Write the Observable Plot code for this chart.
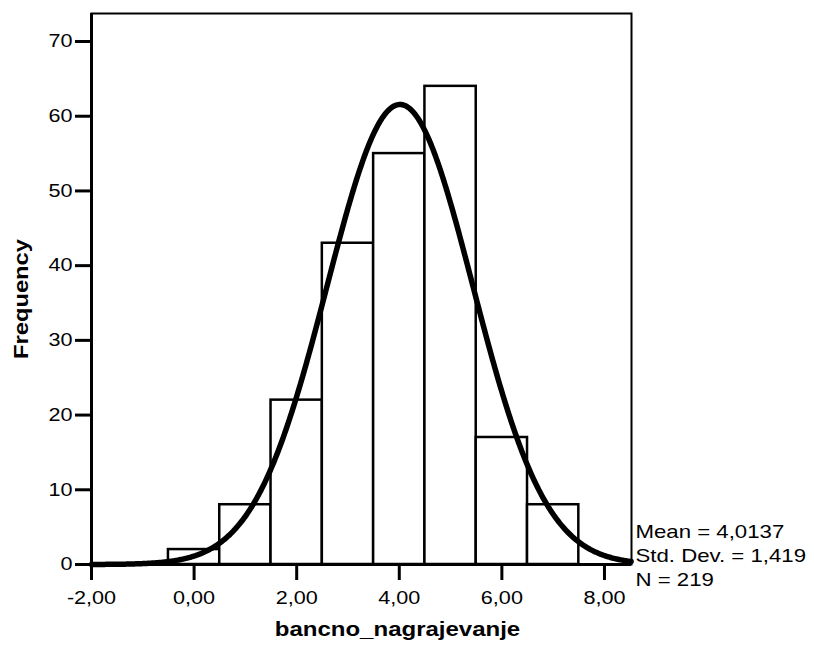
<!DOCTYPE html>
<html>
<head>
<meta charset="utf-8">
<script src="https://cdn.jsdelivr.net/npm/d3@7"></script>
<script src="https://cdn.jsdelivr.net/npm/@observablehq/plot@0.6"></script>
<style>
  html, body { margin: 0; padding: 0; background: #fff; }
  #chart svg { display: block; }
</style>
</head>
<body>
<div id="chart"></div>
<script>
// Histogram bins (lower and upper edges) and their frequencies
const binStart = [-0.5, 0.5, 1.5, 2.5, 3.5, 4.5, 5.5, 6.5];
const binEnd   = [ 0.5, 1.5, 2.5, 3.5, 4.5, 5.5, 6.5, 7.5];
const frequency = [2, 8, 22, 43, 55, 64, 17, 8];

// Axis ticks
const xTicks = [-2, 0, 2, 4, 6, 8];
const yTicks = [0, 10, 20, 30, 40, 50, 60, 70];

// Summary statistics
const mean = 4.0137;
const stdDev = 1.419;
const count = 219;

const xLabel = "bancno_nagrajevanje";
const yLabel = "Frequency";

const comma = (v, digits) => v.toFixed(digits).replace(".", ",");
const statsLines = [
  `Mean = ${comma(mean, 4)}`,
  `Std. Dev. = ${comma(stdDev, 3)}`,
  `N = ${count}`
];

const bins = frequency.map((f, i) => ({start: binStart[i], end: binEnd[i], count: f}));

// Normal curve scaled to the histogram (N × bin width × density)
const binWidth = binEnd[0] - binStart[0];
const xMin = -2, xMax = 8.527;
const curve = d3.range(xMin, xMax + 0.001, 0.02).map(x => ({
  x,
  y: count * binWidth * Math.exp(-0.5 * ((x - mean) / stdDev) ** 2) / (stdDev * Math.sqrt(2 * Math.PI))
}));

const chart = Plot.plot({
  width: 814,
  height: 645,
  marginLeft: 91,
  marginRight: 183,
  marginTop: 13,
  marginBottom: 81,
  style: {fontFamily: "'Liberation Sans', Arial, sans-serif", fontSize: "18px", color: "#000", background: "#fff"},
  x: {domain: [xMin, xMax]},
  y: {domain: [0, 73.75]},
  marks: [
    Plot.rectY(bins, {x1: "start", x2: "end", y: "count", fill: "white", stroke: "black", strokeWidth: 2.5, inset: 0}),
    Plot.line(curve, {x: "x", y: "y", stroke: "black", strokeWidth: 5.5}),
    Plot.frame({stroke: "black", strokeWidth: 2}),
    Plot.ruleX([xMin], {stroke: "black", strokeWidth: 3}),
    Plot.ruleY([0], {stroke: "black", strokeWidth: 3}),
    Plot.axisX({ticks: xTicks, tickFormat: d => comma(d, 2), tickSize: 16, tickPadding: 11, strokeWidth: 3, label: null, fontSize: 18}),
    Plot.axisY({ticks: yTicks, tickSize: 16, tickPadding: 3, strokeWidth: 3, label: null, fontSize: 18}),
    Plot.text([xLabel], {text: d => d, frameAnchor: "bottom", dx: 36, dy: 71, lineAnchor: "bottom", fontWeight: "bold", fontSize: 20}),
    Plot.text([yLabel], {text: d => d, frameAnchor: "left", rotate: -90, dx: -70, dy: 10, textAnchor: "middle", lineAnchor: "middle", fontWeight: "bold", fontSize: 21}),
    ...statsLines.map((s, i) => Plot.text([s], {
      text: d => d, frameAnchor: "bottom-right", textAnchor: "start", lineAnchor: "bottom",
      dx: 4, dy: -27 + 24 * i, fontSize: 18.5
    }))
  ]
});

document.getElementById("chart").append(chart);

// Widen the lettering slightly, as in the original SPSS output
chart.querySelectorAll("text").forEach(t => {
  if (t.querySelector("tspan")) return;
  const f = t.textContent === yLabel ? 1.13 : 1.2;
  const len = t.getComputedTextLength();
  t.setAttribute("textLength", len * f);
  t.setAttribute("lengthAdjust", "spacingAndGlyphs");
});
</script>
</body>
</html>
